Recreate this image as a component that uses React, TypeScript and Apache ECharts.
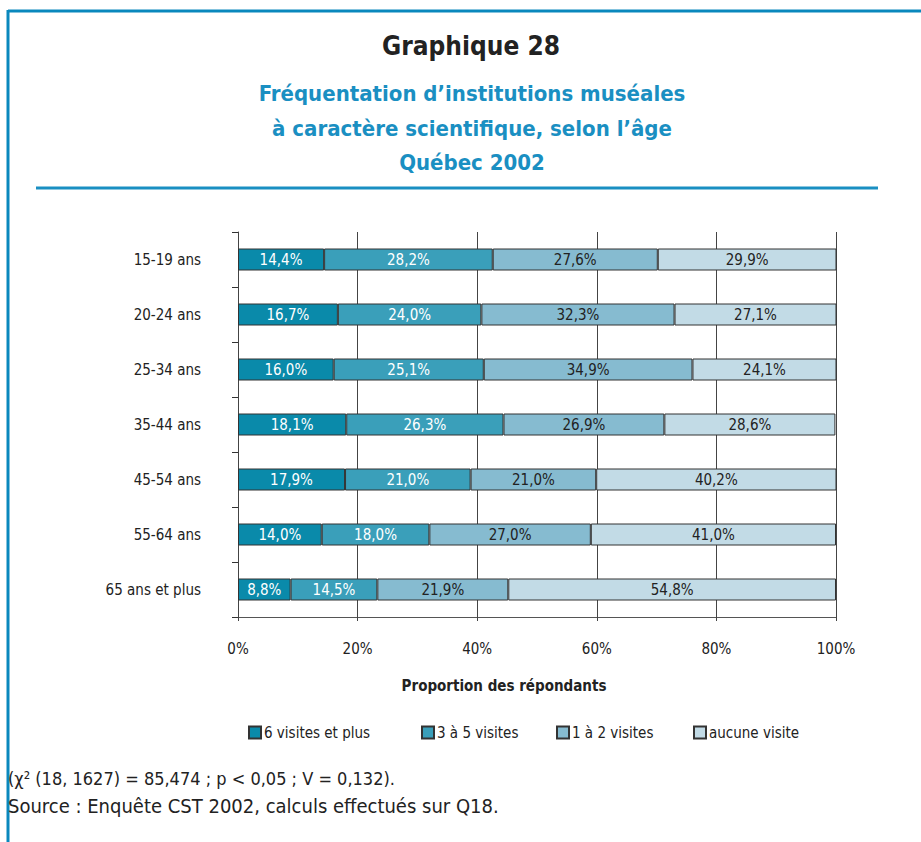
import React, { useEffect, useRef } from "react";
import * as echarts from "echarts";

const categories = ["15-19 ans", "20-24 ans", "25-34 ans", "35-44 ans", "45-54 ans", "55-64 ans", "65 ans et plus"];
const seriesNames = ["6 visites et plus", "3 à 5 visites", "1 à 2 visites", "aucune visite"];
const sixPlus = [14.4, 16.7, 16.0, 18.1, 17.9, 14.0, 8.8];
const threeToFive = [28.2, 24.0, 25.1, 26.3, 21.0, 18.0, 14.5];
const oneToTwo = [27.6, 32.3, 34.9, 26.9, 21.0, 27.0, 21.9];
const none = [29.9, 27.1, 24.1, 28.6, 40.2, 41.0, 54.8];
const xTicks = [0, 20, 40, 60, 80, 100];

const seriesData = [sixPlus, threeToFive, oneToTwo, none];
const colors = ["#0a8aaa", "#3a9fba", "#86bbd0", "#c2dbe6"];
const labelColors = ["#ffffff", "#ffffff", "#222222", "#222222"];
const FONT = "'DejaVu Sans Condensed', 'Liberation Sans Narrow', 'Open Sans', sans-serif";
const BLUE = "#1a8fc2";

const fmt = (v: number) => v.toFixed(1).replace(".", ",") + "%";

export default function App() {
  const ref = useRef<HTMLDivElement>(null);
  useEffect(() => {
    if (!ref.current) return;
    const chart = echarts.init(ref.current, undefined, { renderer: "svg" });
    const legendLeft = [243, 416, 551, 688];
    chart.setOption({
      animation: false,
      textStyle: { fontFamily: FONT },
      grid: { left: 238, right: 85, top: 232, bottom: 225, containLabel: false },
      xAxis: {
        type: "value",
        min: 0,
        max: 100,
        interval: 20,
        axisLine: { show: true, lineStyle: { color: "#555", width: 1 } },
        axisTick: { show: true, length: 4, lineStyle: { color: "#444" } },
        splitLine: { show: true, lineStyle: { color: "#444", width: 1 } },
        axisLabel: {
          margin: 24,
          fontSize: 15,
          color: "#222",
          fontFamily: FONT,
          formatter: (v: number) => (xTicks.includes(v) ? v + "%" : ""),
        },
      },
      yAxis: {
        type: "category",
        data: categories,
        inverse: true,
        axisLine: { show: true, lineStyle: { color: "#444", width: 1 } },
        axisTick: { show: true, length: 6, lineStyle: { color: "#333" } },
        axisLabel: { margin: 37, fontSize: 15, color: "#222", fontFamily: FONT },
      },
      legend: seriesNames.map((n, i) => ({
        data: [n],
        left: legendLeft[i],
        top: 720,
        itemWidth: 12,
        itemHeight: 12,
        itemGap: 4,
        icon: "rect",
        textStyle: { fontSize: 15, color: "#222", fontFamily: FONT, padding: [0, 0, 0, -2] },
        selectedMode: false,
      })),
      series: seriesData.map((d, i) => ({
        name: seriesNames[i],
        type: "bar",
        stack: "total",
        data: d,
        barWidth: 22,
        itemStyle: { color: colors[i], borderColor: "#333", borderWidth: 1 },
        label: {
          show: true,
          position: "inside",
          fontSize: 15,
          color: labelColors[i],
          fontFamily: FONT,
          formatter: (p: any) => fmt(p.value),
        },
      })),
      graphic: [
        { type: "line", shape: { x1: 8, y1: 11, x2: 925, y2: 11 }, style: { stroke: "#0a88bd", lineWidth: 3 } },
        { type: "line", shape: { x1: 8, y1: 10, x2: 8, y2: 845 }, style: { stroke: "#0a88bd", lineWidth: 3 } },
        { type: "line", shape: { x1: 36, y1: 188, x2: 878, y2: 188 }, style: { stroke: BLUE, lineWidth: 3 } },
        { type: "text", x: 471, y: 46, style: { text: "Graphique 28", font: `bold 26px ${FONT}`, fill: "#222", align: "center", verticalAlign: "middle" } },
        { type: "text", x: 472, y: 93, style: { text: "Fréquentation d’institutions muséales", font: `bold 22px ${FONT}`, fill: BLUE, align: "center", verticalAlign: "middle" } },
        { type: "text", x: 472, y: 128, style: { text: "à caractère scientifique, selon l’âge", font: `bold 22px ${FONT}`, fill: BLUE, align: "center", verticalAlign: "middle" } },
        { type: "text", x: 472, y: 162, style: { text: "Québec 2002", font: `bold 22px ${FONT}`, fill: BLUE, align: "center", verticalAlign: "middle" } },
        { type: "text", x: 504, y: 686, style: { text: "Proportion des répondants", font: `bold 15px ${FONT}`, fill: "#222", align: "center", verticalAlign: "middle" } },
        { type: "text", x: 8, y: 778, style: { text: "(χ² (18, 1627) = 85,474 ; p < 0,05 ; V = 0,132).", font: `18px ${FONT}`, fill: "#222", align: "left", verticalAlign: "middle" } },
        { type: "text", x: 8, y: 806, style: { text: "Source : Enquête CST 2002, calculs effectués sur Q18.", font: `20px ${FONT}`, fill: "#222", align: "left", verticalAlign: "middle" } },
      ],
    });
    return () => chart.dispose();
  }, []);
  return (
    <div
      ref={ref}
      style={{ position: "fixed", left: 0, top: 0, width: 921, height: 842, background: "#fff" }}
    />
  );
}
